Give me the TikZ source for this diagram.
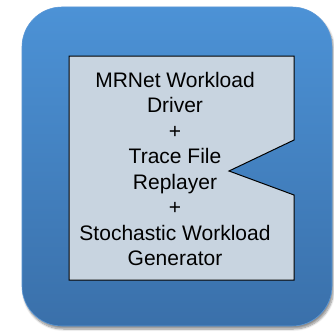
\documentclass[tikz,border=0pt]{standalone}
\usepackage{fontspec}
\setmainfont{Liberation Sans}
\usetikzlibrary{shadows.blur}
\definecolor{tileTop}{RGB}{76,146,214}
\definecolor{tileBottom}{RGB}{58,112,170}
\definecolor{tileEdge}{RGB}{92,152,214}
\definecolor{cardFill}{RGB}{200,212,224}
\tikzset{
    tile/.style = {rounded corners=40pt, top color=tileTop, bottom color=tileBottom,
                   draw=tileEdge, line width=0.6pt,
                   blur shadow={shadow xshift=1.5pt, shadow yshift=-3pt, shadow blur steps=8, shadow opacity=45}},
    card/.style = {draw=black, fill=cardFill, line width=1pt},
    label/.style = {font=\fontsize{21pt}{25.5pt}\selectfont, align=center}
}
\begin{document}
\begin{tikzpicture}[x=1pt, y=1pt]
        \useasboundingbox (0, 0) rectangle (334, 333);

        % blue tile
        \path[tile] (22, 7) rectangle (332, 326);

        % card with notch on the right side
        \draw[card]
            (69, 277) -- (294, 277) -- (294, 193)
            -- (229, 162) -- (294, 138) -- (294, 53)
            -- (69, 53) -- cycle;

        \draw
            (175, 164) node (driver) [label] {MRNet Workload\\Driver\\+\\Trace File\\Replayer\\+\\Stochastic Workload\\Generator};
    \end{tikzpicture}
\end{document}
